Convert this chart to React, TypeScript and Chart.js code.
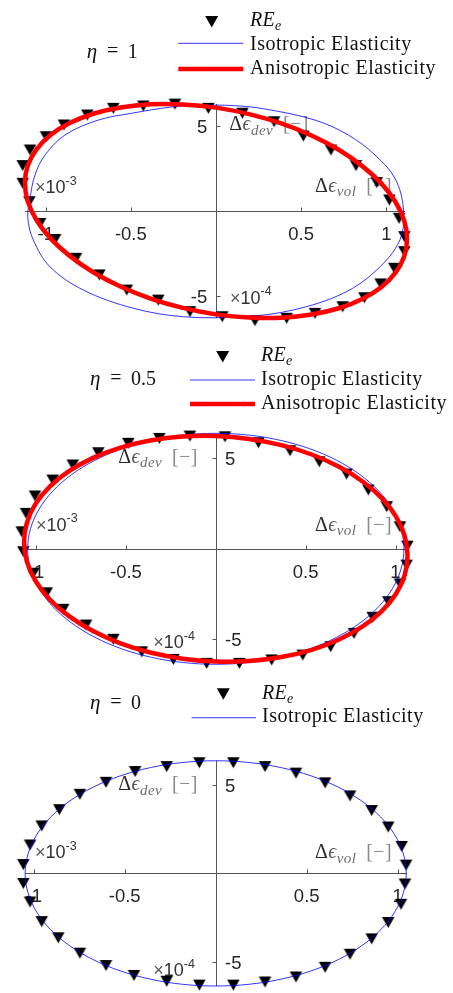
import React, { useEffect, useRef } from 'react';
import { Chart, registerables } from 'chart.js';

Chart.register(...registerables);

const SERIF = '"Liberation Serif", "DejaVu Serif", serif';
const SANS = '"Liberation Sans", Arial, sans-serif';

// ---- tick values / labels ----
const xTickValues = [-1, -0.5, 0.5, 1];
const xTickLabels = ['-1', '-0.5', '0.5', '1'];
const yTickValues = [-5, 5];
const yTickLabels = ['-5', '5'];
const xExponent = '-3';
const yExponent = '-4';
const etaValues = ['1', '0.5', '0'];
const seriesNames = ['Isotropic Elasticity', 'Anisotropic Elasticity'];
const xAxisSub = 'vol';
const yAxisSub = 'dev';

// ---- panel 1 (eta = 1) ----
const re1X = [-0.603, -0.427, -0.241, -0.045, 0.155, 0.341, 0.513, 0.675, 0.822, 0.944, 1.018, 1.075, 1.106, 1.106, 1.047, 0.967, 0.871, 0.744, 0.581, 0.415, 0.229, 0.037, -0.153, -0.339, -0.524, -0.685, -0.822, -0.945, -1.033, -1.096, -1.135, -1.135, -1.092, -0.998, -0.893, -0.756];
const re1Y = [6.04, 6.18, 6.29, 6.04, 5.75, 5.25, 4.41, 3.59, 2.67, 1.67, 0.65, -0.43, -1.51, -2.39, -3.37, -4.29, -5.10, -5.63, -6.02, -6.31, -6.45, -6.22, -5.92, -5.24, -4.65, -3.76, -2.78, -1.67, -0.73, 0.55, 1.63, 2.67, 3.59, 4.37, 5.06, 5.65];
const iso1X = [1.100, 1.051, 0.934, 0.777, 0.581, 0.288, 0.100, -0.100, -0.260, -0.495, -0.691, -0.887, -1.004, -1.063, -1.092, -1.105, -1.073, -0.975, -0.779, -0.486, -0.190, 0.160, 0.454, 0.748, 0.944, 1.080];
const iso1Y = [0.16, 1.92, 3.29, 4.47, 5.35, 6.00, 6.20, 6.22, 6.12, 5.75, 5.35, 4.47, 3.29, 2.12, 0.75, -0.40, -1.70, -3.28, -4.65, -5.72, -6.22, -6.22, -5.82, -4.84, -3.47, -1.70];
const aniso1X = [1.122, 1.105, 1.054, 0.972, 0.859, 0.721, 0.561, 0.384, 0.195, 0, -0.195, -0.384, -0.561, -0.721, -0.859, -0.972, -1.054, -1.105, -1.122, -1.105, -1.054, -0.972, -0.859, -0.721, -0.561, -0.384, -0.195, 0, 0.195, 0.384, 0.561, 0.721, 0.859, 0.972, 1.054, 1.105];
const aniso1Y = [-1.65, -0.57, 0.53, 1.61, 2.64, 3.60, 4.44, 5.15, 5.70, 6.08, 6.27, 6.28, 6.09, 5.72, 5.17, 4.47, 3.63, 2.68, 1.65, 0.57, -0.53, -1.61, -2.64, -3.60, -4.44, -5.15, -5.70, -6.08, -6.27, -6.28, -6.09, -5.72, -5.17, -4.47, -3.63, -2.68];

// ---- panel 2 (eta = 0.5) ----
const re2X = [-0.144, 0.051, 0.237, 0.413, 0.576, 0.728, 0.849, 0.951, 1.025, 1.066, 1.062, 1.025, 0.960, 0.873, 0.769, 0.639, 0.484, 0.311, 0.131, -0.051, -0.236, -0.412, -0.570, -0.722, -0.849, -0.941, -1.015, -1.071, -1.080, -1.056, -1.006, -0.908, -0.796, -0.654, -0.487, -0.314];
const re2Y = [6.23, 6.19, 5.86, 5.42, 4.81, 4.13, 3.25, 2.33, 1.22, 0.15, -0.90, -1.94, -2.92, -3.78, -4.67, -5.41, -5.87, -6.14, -6.33, -6.33, -6.11, -5.69, -5.00, -4.21, -3.34, -2.43, -1.35, -0.16, 0.94, 1.96, 2.92, 3.80, 4.63, 5.31, 5.83, 6.10];
const aniso2X = [1.067, 1.051, 1.003, 0.924, 0.817, 0.686, 0.534, 0.365, 0.185, 0, -0.185, -0.365, -0.534, -0.686, -0.817, -0.924, -1.003, -1.051, -1.067, -1.051, -1.003, -0.924, -0.817, -0.686, -0.534, -0.365, -0.185, 0, 0.185, 0.365, 0.534, 0.686, 0.817, 0.924, 1.003, 1.051];
const aniso2Y = [-0.37, 0.72, 1.78, 2.80, 3.72, 4.53, 5.21, 5.73, 6.07, 6.23, 6.20, 5.98, 5.58, 5.01, 4.29, 3.44, 2.48, 1.45, 0.37, -0.72, -1.78, -2.80, -3.72, -4.53, -5.21, -5.73, -6.07, -6.23, -6.20, -5.98, -5.58, -5.01, -4.29, -3.44, -2.48, -1.45];

// ---- isotropic curve shared by panels 2 and 3 ----
const isoX = [1.047, 1.031, 0.984, 0.907, 0.802, 0.673, 0.524, 0.358, 0.182, 0, -0.182, -0.358, -0.524, -0.673, -0.802, -0.907, -0.984, -1.031, -1.047, -1.031, -0.984, -0.907, -0.802, -0.673, -0.524, -0.358, -0.182, 0, 0.182, 0.358, 0.524, 0.673, 0.802, 0.907, 0.984, 1.031];
const isoY = [0, 1.108, 2.182, 3.190, 4.101, 4.887, 5.525, 5.995, 6.283, 6.38, 6.283, 5.995, 5.525, 4.887, 4.101, 3.190, 2.182, 1.108, 0, -1.108, -2.182, -3.190, -4.101, -4.887, -5.525, -5.995, -6.283, -6.38, -6.283, -5.995, -5.525, -4.887, -4.101, -3.190, -2.182, -1.108];

// ---- panel 3 (eta = 0) ----
const re3X = [-0.090, 0.097, 0.271, 0.441, 0.601, 0.738, 0.857, 0.948, 1.022, 1.046, 1.040, 1.018, 0.948, 0.857, 0.738, 0.601, 0.441, 0.271, 0.097, -0.090, -0.269, -0.449, -0.603, -0.746, -0.865, -0.956, -1.020, -1.057, -1.057, -1.020, -0.956, -0.859, -0.746, -0.603, -0.443, -0.269];
const re3Y = [6.27, 6.27, 6.05, 5.68, 5.13, 4.39, 3.56, 2.63, 1.53, 0.47, -0.60, -1.75, -2.78, -3.71, -4.58, -5.32, -5.87, -6.15, -6.33, -6.33, -6.11, -5.78, -5.22, -4.52, -3.65, -2.73, -1.62, -0.57, 0.50, 1.61, 2.69, 3.61, 4.48, 5.16, 5.77, 6.05];

const W = 453;
const H = 993;

type Panel = {
  eta: string;
  reX: number[]; reY: number[];
  isoX: number[]; isoY: number[];
  anisoX: number[] | null; anisoY: number[] | null;
  xlim: [number, number]; ylim: [number, number];
  ox: number; oy: number; kx: number; ky: number;
  yLabelsLeft: boolean; yTickDir: number;
  etaX: number; etaBase: number;
  mX: number; mY: number; lx0: number; lx1: number; tx: number; reBase: number;
  rows: { lineY: number; base: number }[];
  devPos: [number, number]; volPos: [number, number];
  xExpPos: [number, number]; yExpPos: [number, number];
};

const panels: Panel[] = [
  {
    eta: etaValues[0], reX: re1X, reY: re1Y, isoX: iso1X, isoY: iso1Y, anisoX: aniso1X, anisoY: aniso1Y,
    xlim: [-1.122, 1.11], ylim: [-6.3, 6.3], ox: 216, oy: 211, kx: 170.3, ky: 17,
    yLabelsLeft: true, yTickDir: 1,
    etaX: 86.7, etaBase: 58.3,
    mX: 211.7, mY: 21.7, lx0: 178.3, lx1: 243.3, tx: 250, reBase: 26.2,
    rows: [{ lineY: 43.3, base: 50 }, { lineY: 69, base: 74 }],
    devPos: [229.3, 130], volPos: [315, 191.5],
    xExpPos: [35, 193.3], yExpPos: [230, 303.5],
  },
  {
    eta: etaValues[1], reX: re2X, reY: re2Y, isoX: isoX, isoY: isoY, anisoX: aniso2X, anisoY: aniso2Y,
    xlim: [-1.067, 1.067], ylim: [-6.24, 6.24], ox: 215.8, oy: 548.8, kx: 179.7, ky: 18.1,
    yLabelsLeft: false, yTickDir: -1,
    etaX: 90, etaBase: 385,
    mX: 222.7, mY: 356.7, lx0: 190, lx1: 255, tx: 261, reBase: 360.5,
    rows: [{ lineY: 380, base: 385 }, { lineY: 404, base: 409 }],
    devPos: [118.3, 462.5], volPos: [315, 530.5],
    xExpPos: [36, 530.5], yExpPos: [153.3, 648.3],
  },
  {
    eta: etaValues[2], reX: re3X, reY: re3Y, isoX: isoX, isoY: isoY, anisoX: null, anisoY: null,
    xlim: [-1.047, 1.047], ylim: [-6.38, 6.38], ox: 215.7, oy: 875.8, kx: 182, ky: 18.03,
    yLabelsLeft: false, yTickDir: -1,
    etaX: 90, etaBase: 709,
    mX: 223.3, mY: 694, lx0: 191.7, lx1: 256, tx: 262, reBase: 699,
    rows: [{ lineY: 717.7, base: 721.7 }],
    devPos: [118.3, 790], volPos: [315, 858.3],
    xExpPos: [35, 858.3], yExpPos: [153.3, 976],
  },
];

type Part = { t?: string; size?: number; it?: boolean; dy?: number; gap?: number; family?: string; color?: string };

function drawParts(ctx: CanvasRenderingContext2D, x: number, y: number, parts: Part[], color: string, spacing = 0) {
  let cx = x;
  ctx.save();
  ctx.textAlign = 'left';
  ctx.textBaseline = 'alphabetic';
  (ctx as any).letterSpacing = spacing + 'px';
  for (const p of parts) {
    if (p.gap) { cx += p.gap; continue; }
    ctx.fillStyle = p.color || color;
    ctx.font = `${p.it ? 'italic ' : ''}${p.size || 20}px ${p.family || SERIF}`;
    ctx.fillText(p.t || '', cx, y + (p.dy || 0));
    cx += ctx.measureText(p.t || '').width;
  }
  ctx.restore();
}

// downward triangle marker image, centred on its bounding box (like a MATLAB 'v' marker)
function makeMarker(w: number, h: number): HTMLCanvasElement {
  const c = document.createElement('canvas');
  const cw = Math.ceil(w) + 2;
  const ch = Math.ceil(h) + 2;
  c.width = cw;
  c.height = ch;
  const g = c.getContext('2d')!;
  g.fillStyle = '#000';
  g.beginPath();
  g.moveTo((cw - w) / 2, (ch - h) / 2);
  g.lineTo((cw + w) / 2, (ch - h) / 2);
  g.lineTo(cw / 2, (ch + h) / 2);
  g.closePath();
  g.fill();
  return c;
}

function loop(xs: number[], ys: number[]) {
  const pts = xs.map((x, i) => ({ x, y: ys[i] }));
  const n = pts.length;
  return [pts[n - 1], ...pts, pts[0], pts[1]];
}

function lineDataset(xs: number[], ys: number[], color: string, width: number) {
  const data = loop(xs, ys);
  const len = data.length;
  return {
    data,
    borderColor: color,
    borderWidth: width,
    borderCapStyle: 'round',
    borderJoinStyle: 'round',
    pointRadius: 0,
    tension: 0.35,
    fill: false,
    clip: false,
    segment: {
      borderColor: (c: any) => (c.p0DataIndex === 0 || c.p0DataIndex === len - 2 ? 'rgba(0,0,0,0)' : color),
    },
  };
}

function axisLabel(sub: string): Part[] {
  return [
    { t: 'Δ', size: 20, color: '#2a2a2a' },
    { t: 'ϵ', size: 20, it: true, color: '#555' },
    { t: sub, size: 15, it: true, dy: 4.5, color: '#6e6e6e' },
    { gap: 10 },
    { t: '[−]', size: 20, color: '#8a8a8a' },
  ];
}

function makePlugin(p: Panel) {
  return {
    id: 'panelDecor',
    beforeDatasetsDraw(chart: any) {
      const ctx: CanvasRenderingContext2D = chart.ctx;
      const xs = chart.scales.x;
      const ys = chart.scales.y;
      const x0 = Math.round(xs.getPixelForValue(0)) + 0.5;
      const y0 = Math.round(ys.getPixelForValue(0)) + 0.5;
      ctx.save();
      ctx.strokeStyle = '#555';
      ctx.lineWidth = 1;
      ctx.beginPath();
      ctx.moveTo(xs.getPixelForValue(p.xlim[0]), y0);
      ctx.lineTo(xs.getPixelForValue(p.xlim[1]), y0);
      ctx.moveTo(x0, ys.getPixelForValue(p.ylim[1]));
      ctx.lineTo(x0, ys.getPixelForValue(p.ylim[0]));
      xTickValues.forEach((v) => {
        const px = Math.round(xs.getPixelForValue(v)) + 0.5;
        ctx.moveTo(px, y0);
        ctx.lineTo(px, y0 - 4);
      });
      yTickValues.forEach((v) => {
        const py = Math.round(ys.getPixelForValue(v)) + 0.5;
        ctx.moveTo(x0, py);
        ctx.lineTo(x0 + 4 * p.yTickDir, py);
      });
      ctx.stroke();

      ctx.fillStyle = '#262626';
      ctx.font = `18.5px ${SANS}`;
      ctx.textBaseline = 'alphabetic';
      ctx.textAlign = 'center';
      xTickValues.forEach((v, i) => {
        ctx.fillText(xTickLabels[i], xs.getPixelForValue(v), y0 + 28);
      });
      ctx.textAlign = p.yLabelsLeft ? 'right' : 'left';
      yTickValues.forEach((v, i) => {
        const py = ys.getPixelForValue(v);
        ctx.fillText(yTickLabels[i], p.yLabelsLeft ? x0 - 9.3 : x0 + 8.5, py + 7);
      });
      ctx.restore();

      // exponent labels
      drawParts(ctx, p.xExpPos[0], p.xExpPos[1], [
        { t: '×', size: 18, family: SANS, color: '#555' },
        { t: '10', size: 18, family: SANS },
        { t: xExponent, size: 12.5, dy: -8.5, family: SANS },
      ], '#333');
      drawParts(ctx, p.yExpPos[0], p.yExpPos[1], [
        { t: '×', size: 18, family: SANS, color: '#555' },
        { t: '10', size: 18, family: SANS },
        { t: yExponent, size: 12.5, dy: -8.5, family: SANS },
      ], '#333');

      // axis labels
      drawParts(ctx, p.devPos[0], p.devPos[1], axisLabel(yAxisSub), '#666', 0.4);
      drawParts(ctx, p.volPos[0], p.volPos[1], axisLabel(xAxisSub), '#666', 0.4);
    },
    afterDraw(chart: any) {
      const ctx: CanvasRenderingContext2D = chart.ctx;
      ctx.save();
      // legend marker
      const mw = 13;
      const mh = 11.5;
      ctx.fillStyle = '#000';
      ctx.beginPath();
      ctx.moveTo(p.mX - mw / 2, p.mY - mh / 2);
      ctx.lineTo(p.mX + mw / 2, p.mY - mh / 2);
      ctx.lineTo(p.mX, p.mY + mh / 2);
      ctx.closePath();
      ctx.fill();
      // legend lines
      p.rows.forEach((row, i) => {
        ctx.beginPath();
        ctx.strokeStyle = i === 0 ? '#0000ff' : '#ff0000';
        ctx.lineWidth = i === 0 ? 0.8 : 4.5;
        ctx.moveTo(p.lx0, row.lineY);
        ctx.lineTo(p.lx1, row.lineY);
        ctx.stroke();
      });
      ctx.restore();
      drawParts(ctx, p.tx, p.reBase, [
        { t: 'RE', size: 20, it: true }, { t: 'e', size: 14, it: true, dy: 4 },
      ], '#111', 0.3);
      p.rows.forEach((row, i) => {
        drawParts(ctx, p.tx, row.base, [{ t: seriesNames[i], size: 20 }], '#111', 0.5);
      });
      // eta label
      drawParts(ctx, p.etaX, p.etaBase, [{ t: 'η', size: 21, it: true }], '#111');
      ctx.save();
      ctx.fillStyle = '#111';
      ctx.font = `20px ${SERIF}`;
      ctx.textAlign = 'center';
      ctx.fillText('=', p.etaX + 26, p.etaBase - 1);
      ctx.textAlign = 'left';
      ctx.fillText(p.eta, p.etaX + 41, p.etaBase);
      ctx.restore();
    },
  };
}

function buildConfig(p: Panel, marker: HTMLCanvasElement): any {
  const datasets: any[] = [];
  if (p.anisoX && p.anisoY) datasets.push(lineDataset(p.anisoX, p.anisoY, '#ff0000', 4.5));
  datasets.push(lineDataset(p.isoX, p.isoY, '#0000ff', 0.8));
  datasets.push({
    data: p.reX.map((x, i) => ({ x, y: p.reY[i] })),
    showLine: false,
    pointStyle: marker,
    pointRadius: 6,
    clip: false,
  });
  const left = p.ox + p.xlim[0] * p.kx;
  const right = W - (p.ox + p.xlim[1] * p.kx);
  const top = p.oy - p.ylim[1] * p.ky;
  const bottom = H - (p.oy - p.ylim[0] * p.ky);
  return {
    type: 'line',
    data: { datasets },
    options: {
      animation: false,
      responsive: false,
      devicePixelRatio: 1,
      events: [],
      layout: { padding: { left, right, top, bottom } },
      scales: {
        x: { type: 'linear', min: p.xlim[0], max: p.xlim[1], display: false },
        y: { type: 'linear', min: p.ylim[0], max: p.ylim[1], display: false },
      },
      elements: { line: { capBezierPoints: false } },
      plugins: { legend: { display: false }, tooltip: { enabled: false } },
    },
    plugins: [makePlugin(p)],
  };
}

function PanelChart({ panel }: { panel: Panel }) {
  const ref = useRef<HTMLCanvasElement>(null);
  useEffect(() => {
    if (!ref.current) return;
    const marker = makeMarker(12.5, 11);
    const chart = new Chart(ref.current, buildConfig(panel, marker));
    return () => chart.destroy();
  }, [panel]);
  return (
    <canvas
      ref={ref}
      width={W}
      height={H}
      style={{ position: 'absolute', left: 0, top: 0, width: W, height: H }}
    />
  );
}

export default function App() {
  return (
    <div style={{ position: 'fixed', left: 0, top: 0, width: W, height: H, background: '#fff', overflow: 'hidden' }}>
      {panels.map((p, i) => (
        <PanelChart key={i} panel={p} />
      ))}
    </div>
  );
}
